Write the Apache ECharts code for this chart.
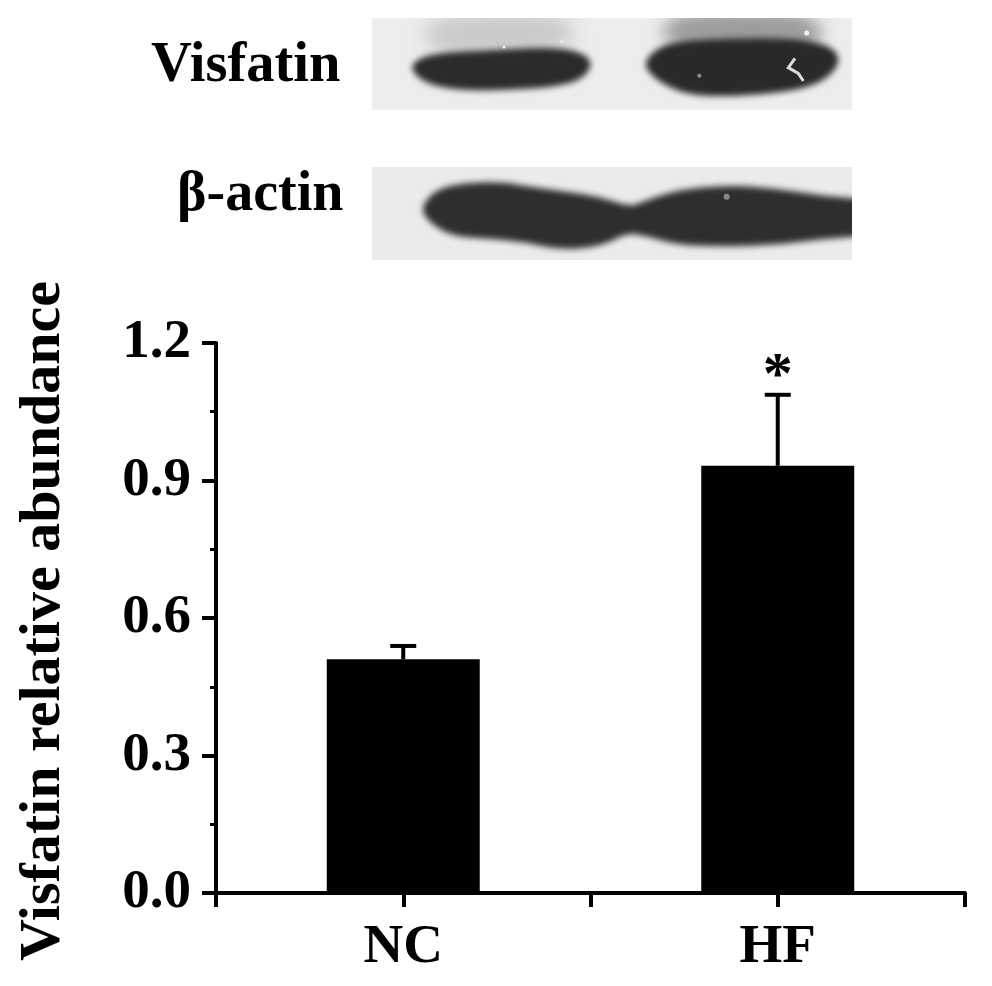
<!DOCTYPE html>
<html><head><meta charset="utf-8">
<style>html,body{margin:0;padding:0;background:#fff}#c{width:992px;height:986px}</style>
<script src="https://cdn.jsdelivr.net/npm/echarts@6/dist/echarts.min.js"></script>
</head><body><div id="c"></div>
<script>
const categories = ['NC', 'HF'];
const means = [0.51, 0.932];
const upperErrors = [0.539, 1.087];
const significance = ['', '*'];
const yTicks = [0, 0.3, 0.6, 0.9, 1.2];
const yTitle = 'Visfatin relative abundance';
const blotLabels = ['Visfatin', 'β-actin'];
const FONT = '"Liberation Serif","Times New Roman",serif';

const chart = echarts.init(document.getElementById('c'), null, {renderer:'canvas'});

// blot artwork in zoom-crop units (crop origin 360,5, scale 3)
function smoothPath(ctx, pts) {
  const m = (a,b) => [(a[0]+b[0])/2,(a[1]+b[1])/2];
  ctx.beginPath();
  let s = m(pts[pts.length-1], pts[0]);
  ctx.moveTo(s[0], s[1]);
  pts.forEach((p,i) => { const n = pts[(i+1)%pts.length]; const e = m(p,n); ctx.quadraticCurveTo(p[0],p[1],e[0],e[1]); });
  ctx.closePath();
}
function panel(ox, oy, w, h, bg, shapes, spots) {
  const cv = document.createElement('canvas');
  cv.width = w; cv.height = h;
  const ctx = cv.getContext('2d');
  ctx.fillStyle = bg; ctx.fillRect(0,0,w,h);
  const map = p => [360 + p[0]/3 - ox, 5 + p[1]/3 - oy];
  shapes.forEach(s => {
    ctx.filter = 'blur(' + s.blur + 'px)';
    ctx.fillStyle = s.fill;
    smoothPath(ctx, s.pts.map(map));
    ctx.fill();
  });
  ctx.filter = 'blur(0.7px)';
  spots.forEach(s => {
    const c = map([s[0],s[1]]);
    ctx.fillStyle = s[3];
    ctx.beginPath(); ctx.arc(c[0],c[1],s[2],0,Math.PI*2); ctx.fill();
  });
  return cv;
}
const topBlot = panel(372,18,480,92,'#ededed',[
  {blur:9, fill:'#cacaca', pts:[[200,40],[400,20],[630,30],[650,130],[400,160],[190,140]]},
  {blur:8, fill:'#9c9c9c', pts:[[930,25],[1150,15],[1370,25],[1400,130],[1150,140],[890,120]]},
  {blur:3, fill:'#2b2b2b', pts:[[140,190],[200,145],[400,135],[610,125],[700,160],[680,215],[600,245],[400,258],[220,250]]},
  {blur:3, fill:'#292929', pts:[[845,170],[920,110],[1100,100],[1300,100],[1410,120],[1445,165],[1400,225],[1300,260],[1100,275],[980,270],[885,225]]}
],[[1018,212,2,'#8f8f8f'],[1340,84,2.5,'#f2f2f2'],[432,126,1.5,'#f4f4f4'],[605,110,1.2,'#f4f4f4']]);
{ const ctx = topBlot.getContext('2d');
  ctx.filter='blur(0.5px)'; ctx.strokeStyle='#dcdcdc'; ctx.lineWidth=3; ctx.beginPath();
  [[1305,160],[1285,188],[1315,205],[1330,228]].forEach((p,i)=>{const x=360+p[0]/3-372,y=5+p[1]/3-18; i?ctx.lineTo(x,y):ctx.moveTo(x,y);});
  ctx.stroke(); }
const bottomBlot = panel(372,167,480,93,'#ebebeb',[
  {blur:3, fill:'#2e2e2e', pts:[[180,610],[225,555],[300,535],[420,530],[510,545],[620,560],[720,575],[810,605],[850,590],[950,555],[1100,540],[1250,550],[1400,575],[1560,585],
        [1560,690],[1400,700],[1250,720],[1100,725],[950,720],[850,690],[800,685],[720,725],[600,735],[500,712],[400,702],[280,695],[210,655]]}
],[[1100,575,3,'#8a8a8a']]);

const blotGraphics = [
  {type:'image', z:1, silent:true, style:{image:topBlot, x:372, y:18, width:480, height:92}},
  {type:'image', z:1, silent:true, style:{image:bottomBlot, x:372, y:167, width:480, height:93}},
  {type:'text', z:7, silent:true, style:{x:151,y:66,text:blotLabels[0],font:'bold 56.5px '+FONT,fill:'#000',textVerticalAlign:'middle'}},
  {type:'text', z:7, silent:true, style:{x:177,y:196,text:blotLabels[1],font:'bold 56px '+FONT,fill:'#000',textVerticalAlign:'middle'}}
];

chart.setOption({
  animation:false,
  backgroundColor:'#fff',
  grid:{left:216, right:27, top:343, bottom:93, containLabel:false, outerBoundsMode:'none'},
  xAxis:[
    {type:'category', data:categories, position:'bottom',
     axisLine:{show:true, onZero:false, lineStyle:{color:'#000',width:4}},
     axisTick:{show:true, alignWithLabel:true, length:14, lineStyle:{color:'#000',width:4}},
     axisLabel:{color:'#000', fontFamily:FONT, fontWeight:'bold', fontSize:55, margin:27}},
    {type:'category', data:categories, position:'bottom',
     axisLine:{show:false},
     axisTick:{show:true, alignWithLabel:false, length:14, lineStyle:{color:'#000',width:4}},
     axisLabel:{show:false}}
  ],
  yAxis:{type:'value', min:0, max:1.2, interval:0.3,
     name:yTitle, nameLocation:'middle', nameGap:143, nameRotate:90,
     nameTextStyle:{color:'#000', fontFamily:FONT, fontWeight:'bold', fontSize:58, padding:[0,6,0,0]},
     axisLine:{show:true, lineStyle:{color:'#000',width:4}},
     axisTick:{show:true, length:14, lineStyle:{color:'#000',width:4}},
     minorTick:{show:true, splitNumber:2, length:6, lineStyle:{color:'#000',width:3}},
     splitLine:{show:false},
     axisLabel:{color:'#000', fontFamily:FONT, fontWeight:'bold', fontSize:55, margin:25, padding:[4,0,0,0],
       formatter:v => { const t = yTicks.find(k => Math.abs(k-v)<1e-6); return (t===undefined?v:t).toFixed(1); }}},
  series:[
    {type:'bar', data:means, barWidth:153, itemStyle:{color:'#000'}, z:2},
    {type:'custom', z:3,
     data:categories.map((c,i)=>[i, means[i], upperErrors[i]]),
     encode:{x:0,y:[1,2]},
     renderItem:(params,api)=>{
       const x = api.coord([api.value(0),0])[0];
       const y0 = api.coord([0,api.value(1)])[1];
       const y1 = api.coord([0,api.value(2)])[1];
       const sig = significance[params.dataIndex];
       const kids = [
         {type:'line', shape:{x1:x,y1:y0,x2:x,y2:y1}, style:{stroke:'#000',lineWidth:4}},
         {type:'line', shape:{x1:x-13,y1:y1,x2:x+13,y2:y1}, style:{stroke:'#000',lineWidth:4}}
       ];
       if (sig) kids.push({type:'text', style:{x, y:y1-17, text:sig, align:'center', verticalAlign:'middle',
          font:'bold 60px '+FONT, fill:'#000'}});
       return {type:'group', children:kids};
     }}
  ],
  graphic:blotGraphics
});
</script></body></html>
